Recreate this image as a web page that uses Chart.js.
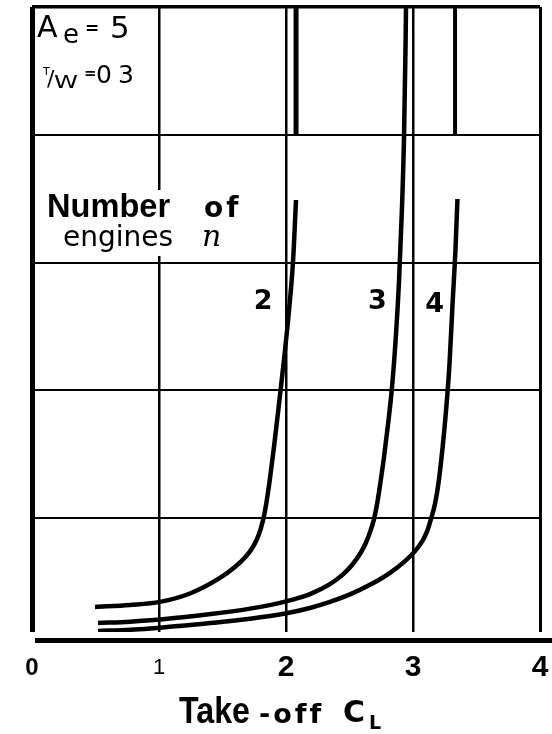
<!DOCTYPE html>
<html lang="en">
<head>
<meta charset="UTF-8">
<title>Take-off CL and number of engines</title>
<script src="https://cdn.jsdelivr.net/npm/chart.js"></script>
<style>
  body { margin: 0; background: #fff; }
  canvas { display: block; }
</style>
</head>
<body>
<canvas id="chart" width="552" height="734"></canvas>
<script>
// number of engines, one curve each
const engineCounts = [2, 3, 4];

// take-off CL along each curve, with the matching ordinate
const clTwo   = [0.496, 0.772, 1.008, 1.244, 1.480, 1.598, 1.677, 1.732, 1.772, 1.803, 1.827, 1.850, 1.874, 1.906, 1.945, 1.984, 2.024, 2.055, 2.079];
const yTwo    = [0.306, 0.322, 0.346, 0.411, 0.533, 0.618, 0.692, 0.763, 0.838, 0.925, 1.019, 1.148, 1.313, 1.563, 1.896, 2.238, 2.630, 3.005, 3.490];

const clThree = [0.520, 0.772, 1.008, 1.425, 1.717, 1.992, 2.189, 2.346, 2.449, 2.520, 2.587, 2.630, 2.665, 2.693, 2.717, 2.740, 2.772, 2.803, 2.835, 2.866, 2.890, 2.913, 2.929, 2.941, 2.945];
const yThree  = [0.180, 0.191, 0.207, 0.252, 0.293, 0.348, 0.407, 0.485, 0.561, 0.634, 0.728, 0.810, 0.901, 0.993, 1.110, 1.256, 1.481, 1.731, 2.029, 2.436, 2.858, 3.421, 3.969, 4.673, 5.000];

const clFour  = [0.520, 0.772, 1.008, 1.425, 1.717, 1.992, 2.189, 2.346, 2.504, 2.661, 2.819, 2.937, 3.016, 3.071, 3.110, 3.142, 3.173, 3.201, 3.232, 3.260, 3.287, 3.311, 3.335, 3.350];
const yFour   = [0.118, 0.128, 0.144, 0.182, 0.214, 0.255, 0.298, 0.345, 0.404, 0.479, 0.573, 0.665, 0.743, 0.817, 0.895, 0.995, 1.112, 1.277, 1.543, 1.840, 2.200, 2.669, 3.115, 3.498];

// short upright pieces in the top row
const stubCL = [2.079, 3.331];
const stubY  = [4, 5];

// axis ticks
const xTicks = [0, 1, 2, 3, 4];
const yGrid  = [1, 2, 3, 4, 5];

const toPoints = (xs, ys) => xs.map((v, i) => ({ x: v, y: ys[i] }));

const curves = [
  { n: engineCounts[0], pts: toPoints(clTwo, yTwo) },
  { n: engineCounts[1], pts: toPoints(clThree, yThree) },
  { n: engineCounts[2], pts: toPoints(clFour, yFour) }
];

const datasets = curves.map(c => ({
  label: 'n = ' + c.n,
  data: c.pts,
  borderColor: '#000',
  borderWidth: 4.5,
  pointRadius: 0,
  cubicInterpolationMode: 'monotone',
  borderJoinStyle: 'round',
  fill: false
}));

stubCL.forEach((v, i) => {
  datasets.push({
    label: 'stub ' + (i + 1),
    data: stubY.map(s => ({ x: v, y: s })),
    borderColor: '#000',
    borderWidth: i === 0 ? 5 : 4,
    pointRadius: 0,
    fill: false
  });
});

// where each curve gets its number written
const curveLabelAt = [
  { text: '2', x: 1.82, y: 2.69 },
  { text: '3', x: 2.72, y: 2.69 },
  { text: '4', x: 3.17, y: 2.67 }
];

// sets the font size so the string takes the given width
function fitText(ctx, str, x, y, width, style, family) {
  ctx.font = style + ' 100px ' + family;
  const size = 100 * width / ctx.measureText(str).width;
  ctx.font = style + ' ' + size.toFixed(1) + 'px ' + family;
  ctx.fillText(str, x, y);
}

const notes = {
  id: 'notes',
  afterDraw(chart) {
    const { ctx, chartArea, scales: { x, y } } = chart;
    const sans = '"DejaVu Sans"';
    const arial = '"Liberation Sans"';
    ctx.save();
    ctx.fillStyle = '#000';
    ctx.textAlign = 'left';
    ctx.textBaseline = 'alphabetic';

    // heavy base line below the grid, out to the right edge
    ctx.fillRect(chartArea.left + 3, chartArea.bottom + 6, chart.width - chartArea.left - 3, 5);

    // Ae = 5
    ctx.font = '30px ' + sans;
    ctx.fillText('A', 37, 37);
    ctx.font = '26px ' + sans;
    ctx.fillText('e', 63, 43);
    ctx.font = 'bold 17px ' + sans;
    ctx.fillText('=', 85, 34);
    ctx.font = '31px ' + sans;
    ctx.fillText('5', 110, 38);

    // T/W = 0 3
    ctx.font = '11px ' + sans;
    ctx.fillText('T', 43, 75);
    ctx.font = '22px ' + sans;
    ctx.fillText('/', 47, 86);
    ctx.save();
    ctx.translate(54, 88);
    ctx.scale(1.35, 1);
    ctx.font = '18px ' + sans;
    ctx.fillText('W', 0, 0);
    ctx.restore();
    ctx.font = 'bold 15px ' + sans;
    ctx.fillText('=', 84, 78);
    ctx.font = '25px ' + sans;
    ctx.fillText('0', 96, 83);
    ctx.fillText('3', 118, 83);

    // Number of engines n
    ctx.fillStyle = '#fff';
    ctx.fillRect(36, 190, 214, 66);
    ctx.fillStyle = '#000';
    fitText(ctx, 'Number', 47, 217, 123, 'bold', arial);
    ctx.font = 'bold 28px ' + sans;
    ctx.letterSpacing = '3px';
    ctx.fillText('of', 204, 217);
    ctx.letterSpacing = '0px';
    fitText(ctx, 'engines', 63, 246, 110, 'normal', sans);
    ctx.font = 'italic 30px "DejaVu Serif"';
    ctx.fillText('n', 202, 246);

    // curve numbers
    ctx.font = 'bold 27px ' + sans;
    ctx.textAlign = 'center';
    ctx.textBaseline = 'middle';
    curveLabelAt.forEach(l => {
      ctx.fillText(l.text, x.getPixelForValue(l.x), y.getPixelForValue(l.y));
    });

    // axis title: Take -off CL
    ctx.textAlign = 'left';
    ctx.textBaseline = 'alphabetic';
    ctx.save();
    ctx.translate(179, 723);
    ctx.scale(1, 1.13);
    fitText(ctx, 'Take', 0, 0, 71, 'bold', arial);
    ctx.restore();
    ctx.font = 'bold 27px ' + sans;
    ctx.letterSpacing = '3px';
    ctx.fillText('-off', 259, 723);
    ctx.letterSpacing = '0px';
    ctx.font = 'bold 30px ' + sans;
    ctx.fillText('C', 343, 722);
    ctx.font = 'bold 19px ' + sans;
    ctx.fillText('L', 369, 729);

    ctx.restore();
  }
};

function tickFont(value) {
  if (value === 0) return { family: 'Liberation Sans', size: 24, weight: 'bold', lineHeight: '36px' };
  if (value === 1) return { family: 'Liberation Sans', size: 22, weight: 'normal', lineHeight: '36px' };
  return { family: 'Liberation Sans', size: 30, weight: 'bold', lineHeight: '36px' };
}

new Chart(document.getElementById('chart'), {
  type: 'line',
  data: { datasets },
  options: {
    responsive: false,
    animation: false,
    events: [],
    layout: { padding: { top: 7, right: 12, left: 0, bottom: 0 } },
    plugins: { legend: { display: false }, tooltip: { enabled: false } },
    scales: {
      x: {
        type: 'linear',
        min: 0,
        max: 4,
        afterBuildTicks: s => { s.ticks = xTicks.map(v => ({ value: v })); },
        afterFit: s => { s.height = 102; s.paddingLeft = 0; s.paddingRight = 0; },
        border: { display: false },
        grid: {
          color: '#000',
          drawTicks: false,
          lineWidth: c => c.tick.value === 0 ? 5 : (c.tick.value === 4 ? 3 : 2.5)
        },
        ticks: {
          color: '#000',
          padding: 18,
          font: c => tickFont(c.tick ? c.tick.value : 2),
          callback: v => String(v)
        }
      },
      y: {
        type: 'linear',
        min: 0.11,
        max: 5,
        afterBuildTicks: s => { s.ticks = yGrid.map(v => ({ value: v })); },
        afterFit: s => { s.width = 32; s.paddingTop = 0; s.paddingBottom = 0; },
        border: { display: false },
        grid: {
          color: '#000',
          drawTicks: false,
          lineWidth: c => c.tick.value === 5 ? 3.5 : 2
        },
        ticks: { display: false }
      }
    }
  },
  plugins: [notes]
});
</script>
</body>
</html>
